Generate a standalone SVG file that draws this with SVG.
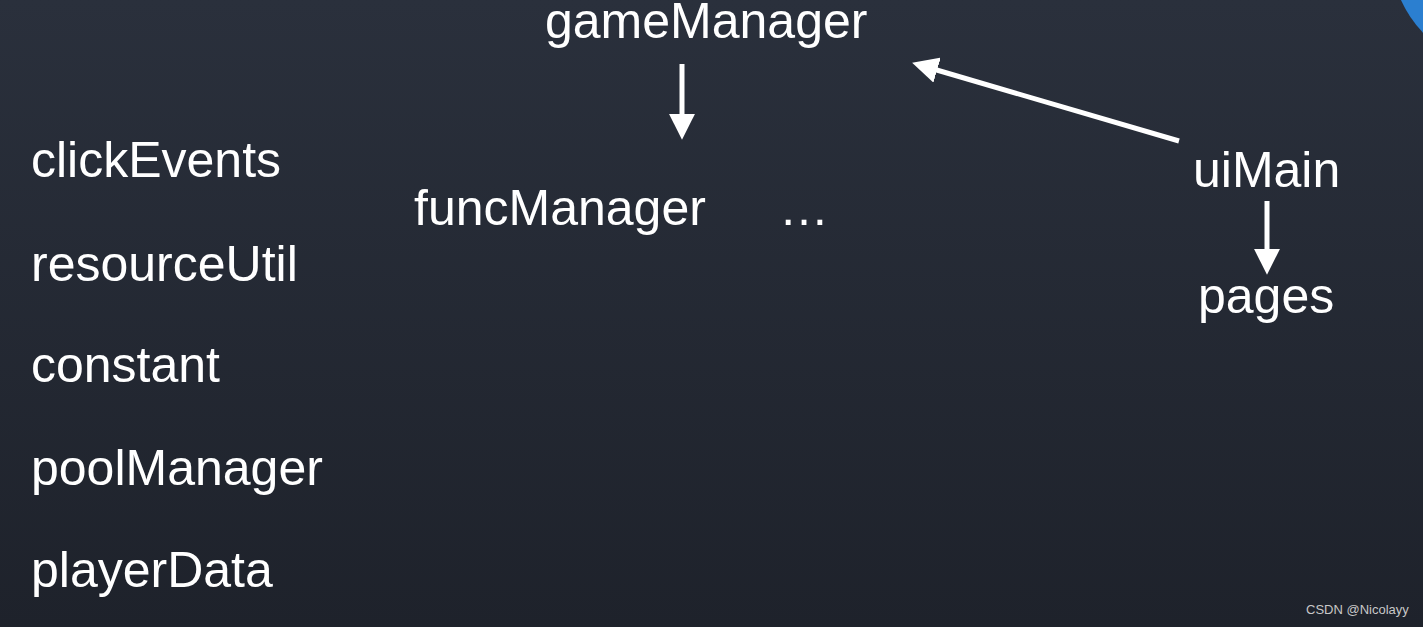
<svg xmlns="http://www.w3.org/2000/svg" width="1423" height="627" viewBox="0 0 1423 627">
<defs>
<linearGradient id="bg" x1="0" y1="0" x2="0" y2="1">
<stop offset="0" stop-color="#2a303c"/>
<stop offset="1" stop-color="#1e222b"/>
</linearGradient>
<marker id="ah" markerUnits="userSpaceOnUse" markerWidth="26" markerHeight="26" viewBox="0 0 24 24" refX="2" refY="12" orient="auto">
<path d="M0,0 L24,12 L0,24 Z" fill="#ffffff"/>
</marker>
<style>
.lbl{font-family:"Liberation Sans",Arial,sans-serif;font-size:50px;fill:#ffffff}
.con{stroke:#ffffff;stroke-width:5;fill:none}
.wm{font-family:"Liberation Sans",Arial,sans-serif;font-size:13px;fill:#c8c8c8}
</style>
</defs>
<rect width="1423" height="627" fill="url(#bg)"/>
<circle cx="1510" cy="-50" r="120" fill="#2b7fd0"/>
<g id="gameManager"><text class="lbl" x="545" y="38">gameManager</text></g>
<g id="funcManager"><text class="lbl" x="414" y="225">funcManager</text></g>
<g id="ellipsis"><text class="lbl" x="779" y="225">…</text></g>
<g id="uiMain"><text class="lbl" x="1193" y="187">uiMain</text></g>
<g id="pages"><text class="lbl" x="1198" y="313">pages</text></g>
<g id="clickEvents"><text class="lbl" x="31" y="177">clickEvents</text></g>
<g id="resourceUtil"><text class="lbl" x="31" y="281">resourceUtil</text></g>
<g id="constant"><text class="lbl" x="31" y="382">constant</text></g>
<g id="poolManager"><text class="lbl" x="31" y="485">poolManager</text></g>
<g id="playerData"><text class="lbl" x="31" y="587">playerData</text></g>
<g id="connectors">
<line class="con" x1="682" y1="64" x2="682" y2="116" marker-end="url(#ah)"/>
<line class="con" x1="1179" y1="141" x2="935" y2="69.5" marker-end="url(#ah)"/>
<line class="con" x1="1267" y1="201" x2="1267" y2="251" marker-end="url(#ah)"/>
</g>
<text class="wm" x="1306" y="614">CSDN @Nicolayy</text>
</svg>
